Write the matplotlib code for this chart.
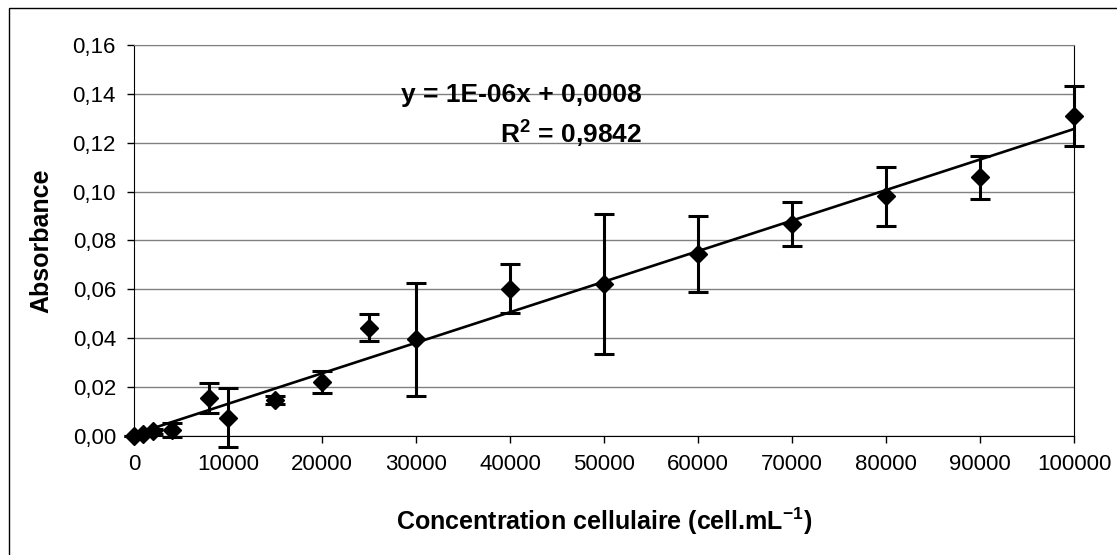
"""
Courbe d'etalonnage : absorbance vs concentration cellulaire
"""
import numpy as np
import matplotlib
matplotlib.use('Agg')
import matplotlib.pyplot as plt
from matplotlib.patches import Rectangle
from matplotlib.ticker import FuncFormatter

plt.rcParams['font.family'] = ['Liberation Sans', 'DejaVu Sans']
plt.rcParams['mathtext.fontset'] = 'custom'
plt.rcParams['mathtext.rm'] = 'Liberation Sans'
plt.rcParams['mathtext.bf'] = 'Liberation Sans:bold'

# data
concentration = [0, 1000, 2000, 4000, 8000, 10000, 15000, 20000, 25000, 30000,
                 40000, 50000, 60000, 70000, 80000, 90000, 100000]
absorbance = [0.0, 0.001, 0.002, 0.0025, 0.0155, 0.0075, 0.0147, 0.022, 0.0443, 0.0395,
              0.0603, 0.0621, 0.0745, 0.0868, 0.098, 0.1058, 0.1309]
err = [0.0, 0.0005, 0.001, 0.003, 0.006, 0.012, 0.0015, 0.0045, 0.0056, 0.0233,
       0.0101, 0.0286, 0.0157, 0.0089, 0.012, 0.0087, 0.0124]

equation_label = 'y = 1E-06x + 0,0008'
r2_label = r'R$^\mathbf{2}$ = 0,9842'
x_ticks = np.arange(0, 100001, 10000)
y_ticks = np.arange(0, 0.161, 0.02)

fig = plt.figure(figsize=(11.17, 5.55), dpi=100)
ax = fig.add_axes([0.12, 0.2144, 0.8415, 0.7046])

# outer chart border (only left/top visible in the scan)
fig.patches.append(Rectangle((9 / 1117, -0.1), 1.2, 1 - 8 / 555 + 0.1,
                             transform=fig.transFigure, fill=False,
                             edgecolor='black', linewidth=1))

eb = ax.errorbar(concentration, absorbance, yerr=err, fmt='D', color='black',
                 markersize=9.5, ecolor='black', elinewidth=2.2, capsize=7,
                 capthick=2.2, zorder=3)
for artist in eb.get_children():
    artist.set_clip_on(False)

# linear trendline
coef = np.polyfit(concentration, absorbance, 1)
xfit = np.array([0, 100000])
ax.plot(xfit, np.polyval(coef, xfit), color='black', linewidth=1.9, zorder=2)

ax.set_xlim(0, 100000)
ax.set_ylim(0, 0.16)
ax.set_xticks(x_ticks)
ax.set_yticks(y_ticks)
ax.yaxis.set_major_formatter(FuncFormatter(lambda v, p: f'{v:.2f}'.replace('.', ',')))
ax.xaxis.set_major_formatter(FuncFormatter(lambda v, p: f'{int(v)}'))
ax.tick_params(labelsize=16, length=5, width=1, direction='out', pad=8)
ax.grid(True, axis='y', color='#808080', linewidth=1)
ax.set_axisbelow(True)
for side in ['left', 'right', 'bottom']:
    ax.spines[side].set_color('black')
ax.spines['top'].set_color('#808080')

ax.set_ylabel('Absorbance', fontsize=18, fontweight='bold', labelpad=14)
ax.set_xlabel(r'Concentration cellulaire (cell.mL$^{\mathbf{-1}}$)', fontsize=18,
              fontweight='bold', labelpad=22)

fig.text(642 / 1117, 1 - 95 / 555, equation_label, fontsize=19, fontweight='bold',
         ha='right', va='center')
fig.text(642 / 1117, 1 - 133 / 555, r2_label, fontsize=19, fontweight='bold',
         ha='right', va='center')

fig.savefig('out.png', dpi=100)
